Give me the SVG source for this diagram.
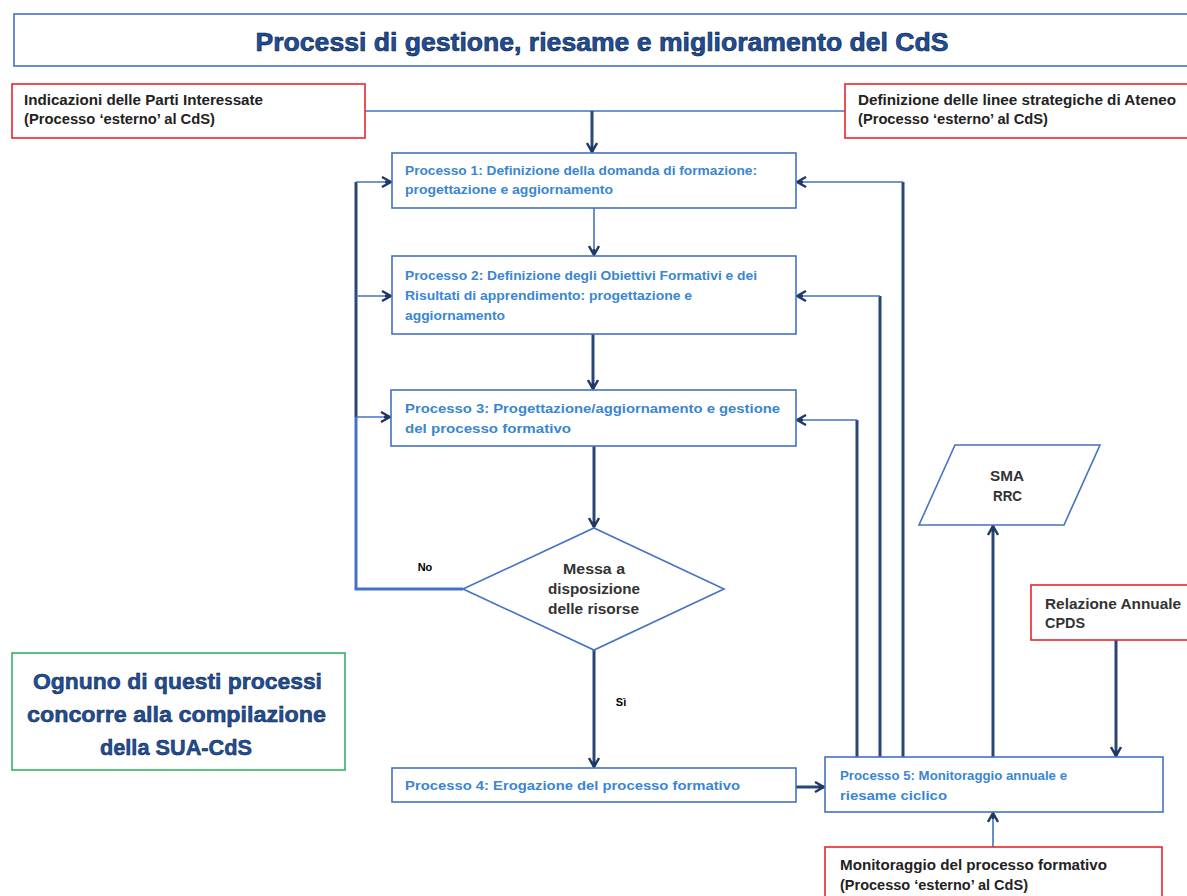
<svg xmlns="http://www.w3.org/2000/svg" width="1187" height="896" viewBox="0 0 1187 896">
<defs>
<style>
.bx{fill:#fff;stroke:#4472c4;stroke-width:1.6}
.red{fill:#fff;stroke:#e8262b;stroke-width:1.6}
.grn{fill:#fff;stroke:#2db562;stroke-width:1.6}
.pt{font-family:"Liberation Sans",Arial,sans-serif;font-size:13px;fill:#3a86d1;font-weight:bold}
.ext{font-family:"Liberation Sans",Arial,sans-serif;font-size:14px;fill:#222;font-weight:bold}
.dk{font-family:"Liberation Sans",Arial,sans-serif;font-size:14px;fill:#333;font-weight:bold}
.lbl{font-family:"Liberation Sans",Arial,sans-serif;font-size:11px;fill:#000;font-weight:bold}
.thin{fill:none;stroke:#4472c4;stroke-width:1.6}
.thick{fill:none;stroke:#2a4676;stroke-width:3}
.tb{fill:none;stroke:#4472c4;stroke-width:3}
</style>
<marker id="ah" viewBox="0 0 12 12" refX="11" refY="6" markerWidth="12" markerHeight="12" markerUnits="userSpaceOnUse" orient="auto">
<path d="M2,1 L11,6 L2,11 M5,6 L11,6" fill="none" stroke="#1f3864" stroke-width="2.4"/>
</marker>
</defs>

<g id="title">
<rect x="14" y="14" width="1180" height="52" class="bx" stroke-width="2"/>
<text x="602" y="51" text-anchor="middle" font-family="'Liberation Sans',Arial,sans-serif" font-size="25" font-weight="bold" fill="#1f4e9a" stroke="#0a1e3c" stroke-width="0.6" textLength="693" lengthAdjust="spacingAndGlyphs">Processi di gestione, riesame e miglioramento del CdS</text>
</g>

<g id="connectors">
<path class="thin" d="M365,111 H845"/>
<path class="thick" d="M592,111 V152" marker-end="url(#ah)"/>
<path class="thin" d="M594,208 V255" marker-end="url(#ah)"/>
<path class="thick" d="M593,334 V389" marker-end="url(#ah)"/>
<path class="thick" d="M594,446 V527" marker-end="url(#ah)"/>
<path class="tb" d="M463,589 H356 V417"/>
<path class="thick" d="M356,417 V182" stroke-width="2"/>
<path class="thin" d="M356,182 H391" marker-end="url(#ah)"/>
<path class="thin" d="M356,296 H391" marker-end="url(#ah)"/>
<path class="thin" d="M356,417 H390" marker-end="url(#ah)"/>
<path class="thick" d="M594,650 V767" marker-end="url(#ah)"/>
<path class="thick" d="M796,787 H824" marker-end="url(#ah)"/>
<path class="thick" d="M857,757 V420"/>
<path class="thin" d="M857,420 H797" marker-end="url(#ah)"/>
<path class="thick" d="M880,757 V296"/>
<path class="thin" d="M880,296 H797" marker-end="url(#ah)"/>
<path class="thick" d="M903,757 V182"/>
<path class="thin" d="M903,182 H797" marker-end="url(#ah)"/>
<path class="thick" d="M993,757 V526" marker-end="url(#ah)"/>
<path class="thick" d="M1116,640 V756" marker-end="url(#ah)"/>
<path class="thin" d="M993,847 V813" marker-end="url(#ah)"/>
</g>

<g id="n_parti">
<rect x="12" y="84" width="353" height="54" class="red"/>
<text class="ext" x="24" y="105" textLength="239" lengthAdjust="spacingAndGlyphs">Indicazioni delle Parti Interessate</text>
<text class="ext" x="24" y="124" textLength="191" lengthAdjust="spacingAndGlyphs">(Processo ‘esterno’ al CdS)</text>
</g>

<g id="n_ateneo">
<rect x="845" y="84" width="350" height="54" class="red"/>
<text class="ext" x="858" y="105" textLength="318" lengthAdjust="spacingAndGlyphs">Definizione delle linee strategiche di Ateneo</text>
<text class="ext" x="858" y="124" textLength="190" lengthAdjust="spacingAndGlyphs">(Processo ‘esterno’ al CdS)</text>
</g>

<g id="n_p1">
<rect x="392" y="153" width="404" height="55" class="bx"/>
<text class="pt" x="405" y="175" textLength="352" lengthAdjust="spacingAndGlyphs">Processo  1: Definizione della domanda  di formazione:</text>
<text class="pt" x="405" y="194" textLength="208" lengthAdjust="spacingAndGlyphs">progettazione e aggiornamento</text>
</g>

<g id="n_p2">
<rect x="392" y="256" width="404" height="78" class="bx"/>
<text class="pt" x="405" y="280" textLength="352" lengthAdjust="spacingAndGlyphs">Processo  2: Definizione degli Obiettivi Formativi e dei</text>
<text class="pt" x="405" y="300" textLength="287" lengthAdjust="spacingAndGlyphs">Risultati di apprendimento: progettazione e</text>
<text class="pt" x="405" y="320" textLength="100" lengthAdjust="spacingAndGlyphs">aggiornamento</text>
</g>

<g id="n_p3">
<rect x="391" y="390" width="405" height="56" class="bx"/>
<text class="pt" x="405" y="413" font-size="14" textLength="375" lengthAdjust="spacingAndGlyphs">Processo 3: Progettazione/aggiornamento e gestione</text>
<text class="pt" x="405" y="433" font-size="14" textLength="166" lengthAdjust="spacingAndGlyphs">del processo formativo</text>
</g>

<g id="n_decision">
<polygon points="594,528 724,589 594,650 463,589" class="bx" stroke-width="2"/>
<text class="dk" x="563" y="574" textLength="62" lengthAdjust="spacingAndGlyphs">Messa a</text>
<text class="dk" x="548" y="594" textLength="92" lengthAdjust="spacingAndGlyphs">disposizione</text>
<text class="dk" x="548" y="614" textLength="91" lengthAdjust="spacingAndGlyphs">delle risorse</text>
</g>

<text class="lbl" x="425" y="571" text-anchor="middle">No</text>
<text class="lbl" x="621" y="706" text-anchor="middle">Sì</text>

<g id="n_p4">
<rect x="392" y="768" width="404" height="34" class="bx"/>
<text class="pt" x="405" y="790" font-size="14" textLength="335" lengthAdjust="spacingAndGlyphs">Processo 4: Erogazione  del processo formativo</text>
</g>

<g id="n_p5">
<rect x="825" y="757" width="338" height="55" class="bx"/>
<text class="pt" x="840" y="780" font-size="14" textLength="227" lengthAdjust="spacingAndGlyphs">Processo 5: Monitoraggio annuale e</text>
<text class="pt" x="840" y="800" font-size="14" textLength="107" lengthAdjust="spacingAndGlyphs">riesame ciclico</text>
</g>

<g id="n_sma">
<polygon points="955,445 1100,445 1064,525 919,525" class="bx"/>
<text class="dk" x="990" y="481" textLength="34" lengthAdjust="spacingAndGlyphs">SMA</text>
<text class="dk" x="993" y="501" textLength="29" lengthAdjust="spacingAndGlyphs">RRC</text>
</g>

<g id="n_cpds">
<rect x="1031" y="585" width="165" height="55" class="red"/>
<text class="dk" x="1045" y="609" textLength="136" lengthAdjust="spacingAndGlyphs">Relazione Annuale</text>
<text class="dk" x="1045" y="628" textLength="40" lengthAdjust="spacingAndGlyphs">CPDS</text>
</g>

<g id="n_monit">
<rect x="825" y="847" width="337" height="60" class="red"/>
<text class="ext" x="840" y="870" textLength="267" lengthAdjust="spacingAndGlyphs">Monitoraggio del processo formativo</text>
<text class="ext" x="840" y="890" textLength="188" lengthAdjust="spacingAndGlyphs">(Processo ‘esterno’ al CdS)</text>
</g>

<g id="n_note">
<rect x="12" y="653" width="333" height="117" class="grn"/>
<g font-family="'Liberation Sans',Arial,sans-serif" font-size="22" font-weight="bold" fill="#1f4e9a" stroke="#0a1e3c" stroke-width="0.5" lengthAdjust="spacingAndGlyphs">
<text x="33" y="689" textLength="289" lengthAdjust="spacingAndGlyphs">Ognuno di questi processi</text>
<text x="27" y="722" textLength="299" lengthAdjust="spacingAndGlyphs">concorre alla compilazione</text>
<text x="100" y="755" textLength="152" lengthAdjust="spacingAndGlyphs">della SUA-CdS</text>
</g>
</g>
</svg>
